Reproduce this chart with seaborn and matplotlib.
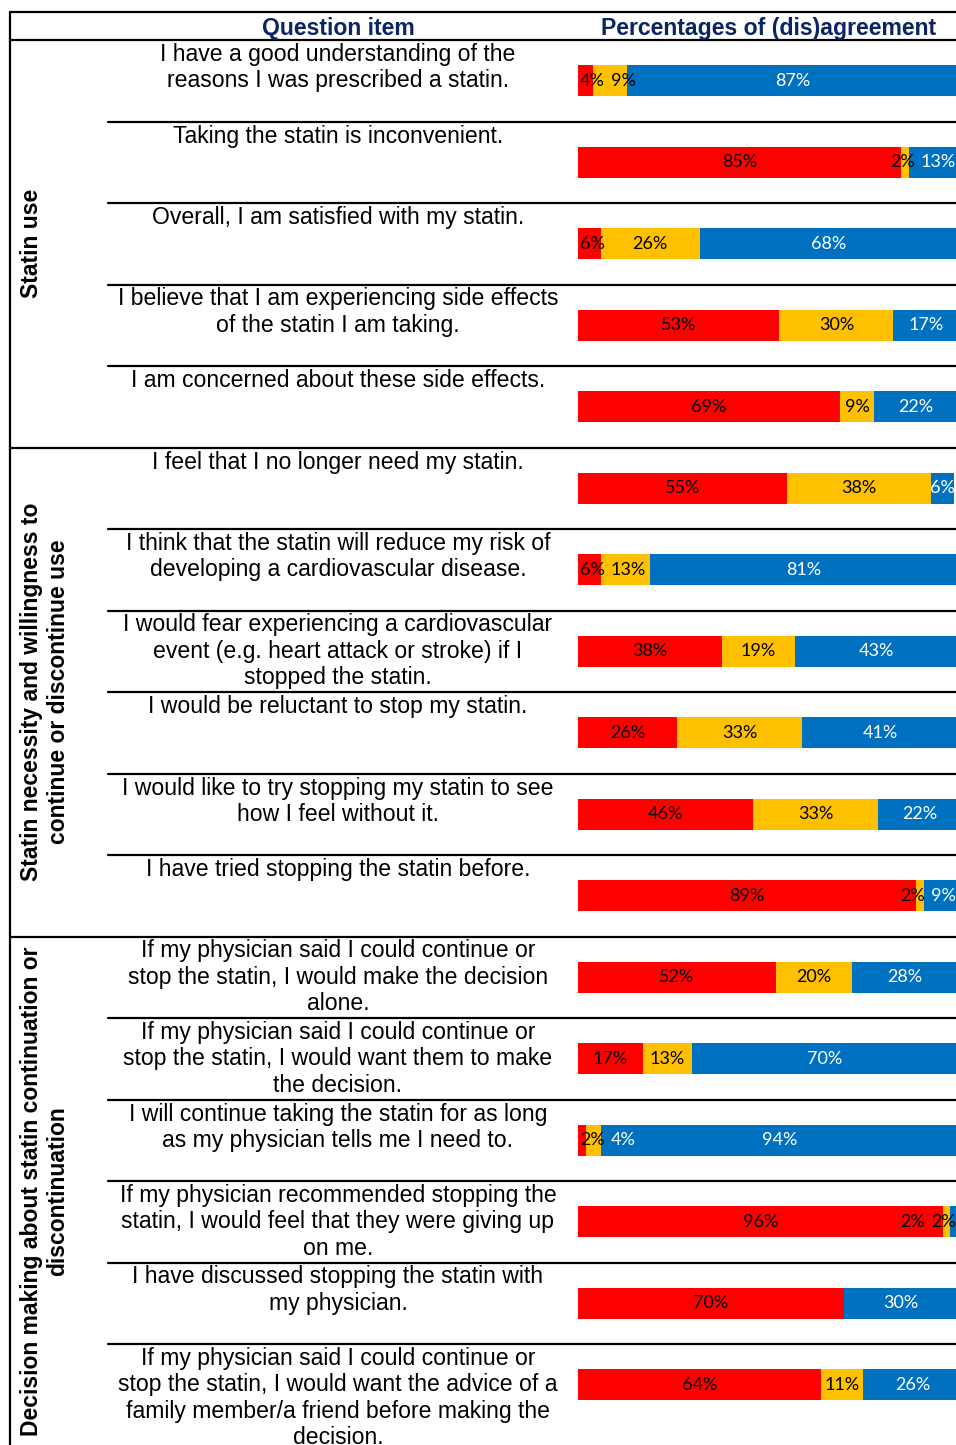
import numpy as np
import pandas as pd
import matplotlib
matplotlib.use('Agg')
import matplotlib.pyplot as plt
import seaborn as sns

# Data
questions = [
    "I have a good understanding of the\nreasons I was prescribed a statin.",
    "Taking the statin is inconvenient.",
    "Overall, I am satisfied with my statin.",
    "I believe that I am experiencing side effects\nof the statin I am taking.",
    "I am concerned about these side effects.",
    "I feel that I no longer need my statin.",
    "I think that the statin will reduce my risk of\ndeveloping a cardiovascular disease.",
    "I would fear experiencing a cardiovascular\nevent (e.g. heart attack or stroke) if I\nstopped the statin.",
    "I would be reluctant to stop my statin.",
    "I would like to try stopping my statin to see\nhow I feel without it.",
    "I have tried stopping the statin before.",
    "If my physician said I could continue or\nstop the statin, I would make the decision\nalone.",
    "If my physician said I could continue or\nstop the statin, I would want them to make\nthe decision.",
    "I will continue taking the statin for as long\nas my physician tells me I need to.",
    "If my physician recommended stopping the\nstatin, I would feel that they were giving up\non me.",
    "I have discussed stopping the statin with\nmy physician.",
    "If my physician said I could continue or\nstop the statin, I would want the advice of a\nfamily member/a friend before making the\ndecision.",
]
sections = [
    "Statin use",
    "Statin necessity and willingness to\ncontinue or discontinue use",
    "Decision making about statin continuation or\ndiscontinuation",
]
section_first = [0, 5, 11]
section_last = [4, 10, 16]

disagree = [4, 85, 6, 53, 69, 55, 6, 38, 26, 46, 89, 52, 17, 2, 96, 70, 64]
neutral = [9, 2, 26, 30, 9, 38, 13, 19, 33, 33, 2, 20, 13, 4, 2, 0, 11]
agree = [87, 13, 68, 17, 22, 6, 81, 43, 41, 22, 9, 28, 70, 94, 2, 30, 26]

header_left = "Question item"
header_right = "Percentages of (dis)agreement"

RED = "#FF0000"
AMBER = "#FFC000"
BLUE = "#0070C0"
NAVY = "#0B2463"

sns.set_theme(style="white")
plt.rcParams['font.family'] = ['Liberation Sans', 'DejaVu Sans']
plt.rcParams['text.color'] = 'black'

W, H = 956, 1445
TOP, ROW_H = 40, 81.5
n = len(questions)

fig = plt.figure(figsize=(W / 100, H / 100), dpi=100)

# background axes in pixel units for the table lines and texts
bg = fig.add_axes([0, 0, 1, 1])
bg.set_xlim(0, W)
bg.set_ylim(H, 0)
bg.axis('off')

lw = 1.6
bg.plot([10, W], [12, 12], color='black', lw=lw)
bg.plot([10, W], [TOP, TOP], color='black', lw=lw)
bg.plot([10, 10], [12, H], color='black', lw=lw)
bg.text(338, 28, header_left, ha='center', va='center', fontsize=16.6,
        fontweight='bold', color=NAVY)
bg.text(769, 28, header_right, ha='center', va='center', fontsize=16.6,
        fontweight='bold', color=NAVY)

for i, q in enumerate(questions):
    y0 = TOP + i * ROW_H
    if i > 0:
        x0 = 10 if i in section_first else 108
        bg.plot([x0, W], [y0, y0], color='black', lw=lw)
    bg.text(338, y0 + 3, q, ha='center', va='top', fontsize=16.6,
            linespacing=1.19)

for name, a, b in zip(sections, section_first, section_last):
    y_top = TOP + a * ROW_H
    y_bot = TOP + (b + 1) * ROW_H if b < n - 1 else H
    bg.text(20, (y_top + y_bot) / 2, name, rotation=90, ha='left', va='center',
            fontsize=16.5, fontweight='bold', multialignment='center',
            linespacing=1.2)

# bar axes: x in percent, one category per question row
left_px, right_px = 578, 958
bottom_px = TOP + n * ROW_H
ax = fig.add_axes([left_px / W, (H - bottom_px) / H,
                   (right_px - left_px) / W, (bottom_px - TOP) / H])
ax.patch.set_alpha(0)

df = pd.DataFrame({
    'item': [f"q{i}" for i in range(n)],
    'disagree': disagree,
    'neutral': neutral,
    'agree': agree,
})
df['cum_neutral'] = df['disagree'] + df['neutral']
df['cum_agree'] = df['cum_neutral'] + df['agree']
order = list(df['item'])

for col, c in [('cum_agree', BLUE), ('cum_neutral', AMBER), ('disagree', RED)]:
    sns.barplot(data=df, x=col, y='item', order=order, orient='h', color=c,
                saturation=1, width=0.38, errorbar=None, linewidth=0, ax=ax)

ax.set_xlim(0, 100)
ax.set_ylim(n - 0.5, -0.5)
ax.axis('off')

# percentage labels, centred in segments and nudged apart when crowded
fig.canvas.draw()
renderer = fig.canvas.get_renderer()
px_per_pct = ax.transData.transform((1, 0))[0] - ax.transData.transform((0, 0))[0]
x_max = (W - left_px) / px_per_pct
gap = 6 / px_per_pct

for i in range(n):
    vals = [disagree[i], neutral[i], agree[i]]
    starts = np.cumsum([0] + vals[:-1])
    texts, xs, ws = [], [], []
    for v, s in zip(vals, starts):
        if v == 0:
            continue
        t = ax.text(s + v / 2, i, f"{v}%", ha='center', va='center',
                    fontsize=13, family=['Lato', 'DejaVu Sans'])
        w = t.get_window_extent(renderer).width / px_per_pct
        texts.append(t)
        xs.append(s + v / 2)
        ws.append(w)
    # push right
    xs[0] = max(xs[0], ws[0] / 2 + 0.5)
    for k in range(1, len(xs)):
        xs[k] = max(xs[k], xs[k - 1] + (ws[k - 1] + ws[k]) / 2 + gap)
    # pull back from the right edge
    xs[-1] = min(xs[-1], x_max - ws[-1] / 2)
    for k in range(len(xs) - 2, -1, -1):
        xs[k] = min(xs[k], xs[k + 1] - (ws[k] + ws[k + 1]) / 2 - gap)
    blue_start = disagree[i] + neutral[i]
    for t, x in zip(texts, xs):
        t.set_x(x)
        t.set_color('white' if x >= blue_start else 'black')

fig.savefig('out.png', dpi=100)
